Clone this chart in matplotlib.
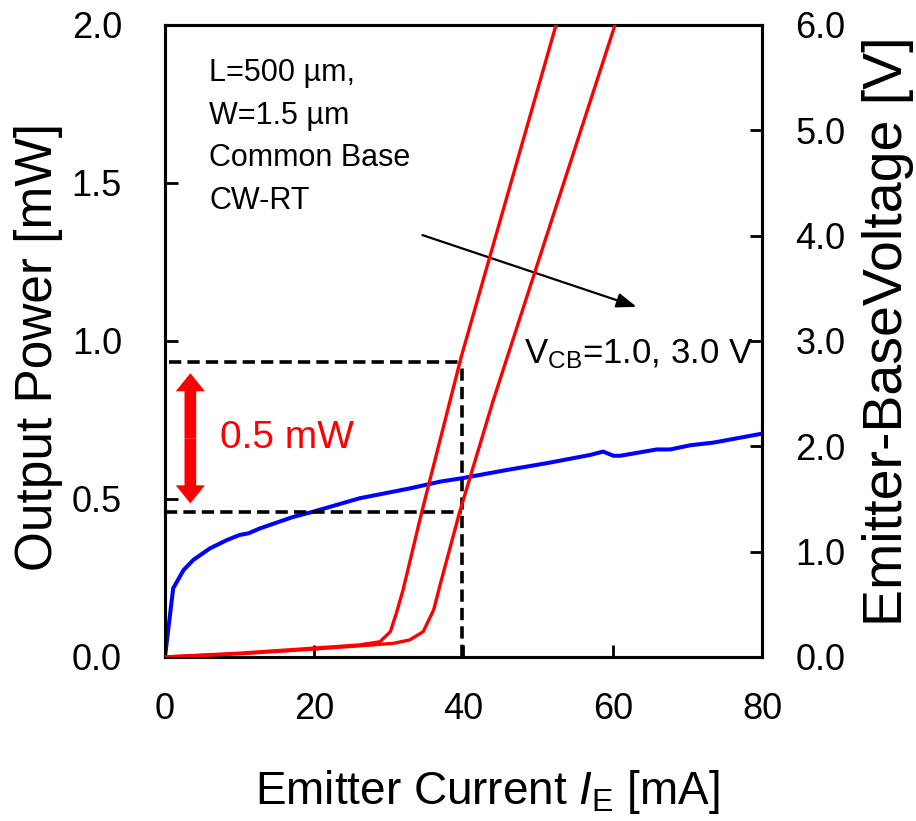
#!/usr/bin/env python3
# -*- coding: utf-8 -*-

from matplotlib import pyplot as plt

plt.rcParams['font.family'] = ['Liberation Sans', 'DejaVu Sans']
plt.rcParams['mathtext.fontset'] = 'custom'
plt.rcParams['mathtext.rm'] = 'Liberation Sans'
plt.rcParams['mathtext.it'] = 'Liberation Sans:italic'

# output power, V_CB = 1.0 V
ie_1v = [0, 10, 20, 26, 28.8, 30.2, 31.0, 31.9, 34.4, 39.7, 52.4]
pw_1v = [0, 0.012, 0.028, 0.038, 0.048, 0.080, 0.138, 0.212, 0.458, 0.95, 2.0]

# output power, V_CB = 3.0 V
ie_3v = [0, 10, 20, 30.6, 32.8, 34.6, 36.0, 37.0, 39.5, 44.0, 60.3]
pw_3v = [0, 0.010, 0.025, 0.043, 0.054, 0.080, 0.149, 0.24, 0.46, 0.813, 2.0]

# emitter-base voltage
ie_v = [0, 1.1, 2.5, 3.8, 6.0, 8.3, 10.0, 11.2, 12.7, 17.2, 19.9, 26.1, 32.8,
        36.9, 39.8, 45.8, 51.1, 57.0, 58.7, 60.1, 61.0, 65.9, 67.7, 70.4,
        73.5, 80.0]
veb = [0, 0.652, 0.826, 0.921, 1.03, 1.11, 1.158, 1.174, 1.22, 1.33, 1.38,
       1.507, 1.60, 1.665, 1.697, 1.775, 1.839, 1.918, 1.95, 1.91, 1.91,
       1.97, 1.97, 2.01, 2.035, 2.12]

# guide lines for the 0.5 mW difference at 40 mA
ie_mark = 39.8
p_low, p_high = 0.458, 0.935

x_ticks = [0, 20, 40, 60, 80]
left_ticks = [0.0, 0.5, 1.0, 1.5, 2.0]
right_ticks = [0.0, 1.0, 2.0, 3.0, 4.0, 5.0, 6.0]

bg = '#ffffe4'

fig = plt.figure(figsize=(9.16, 8.21), dpi=100)
ax = fig.add_axes([0.1801, 0.1998, 0.6518, 0.7698])
ax2 = ax.twinx()

# power axes on top of the voltage axes, background on the lower one
ax.set_zorder(1)
ax2.set_zorder(0)
ax.set_facecolor('none')
ax2.set_facecolor(bg)

ax.set_xlim(0, 80)
ax.set_ylim(0, 2.0)
ax2.set_ylim(0, 6.0)

ax2.plot(ie_v, veb, color='#0000ff', lw=2.9)

# dashed guides
dash_kw = dict(color='black', lw=2.6, dashes=(3.4, 1.7), zorder=2)
ax.plot([0.5, ie_mark], [p_high, p_high], **dash_kw)
ax.plot([0, ie_mark], [p_low, p_low], **dash_kw)
ax.plot([ie_mark, ie_mark], [0, p_high], **dash_kw)

ax.plot(ie_1v, pw_1v, color='#ff0000', lw=2.4, zorder=4)
ax.plot(ie_3v, pw_3v, color='#ff0000', lw=2.4, zorder=4)

# red double arrow
for end in (0.898, 0.486):
    ax.annotate('', xy=(3.4, end), xytext=(3.4, 0.692),
                arrowprops=dict(arrowstyle='simple,head_length=0.65,head_width=1.05,tail_width=0.42',
                                color='#ff0000', lw=0, mutation_scale=20,
                                shrinkA=0, shrinkB=0),
                zorder=5)
ax.text(7.4, 0.692, '0.5 mW', color='#ff0000', fontsize=28, va='center', ha='left')

ax.text(5.9, 1.895, 'L=500 \u00b5m,\nW=1.5 \u00b5m\nCommon Base\nCW-RT',
        fontsize=22, va='top', ha='left', linespacing=1.55)

ax.annotate('', xy=(63.2, 1.108), xytext=(34.5, 1.335),
            arrowprops=dict(arrowstyle='-|>,head_length=0.6,head_width=0.22',
                            color='black', lw=1.6, mutation_scale=20,
                            shrinkA=0, shrinkB=0))
ax.text(48.1, 0.93, r'V$_{\mathrm{CB}}$=1.0, 3.0 V', fontsize=25, va='baseline', ha='left')

ax.set_xticks(x_ticks)
ax.set_xticklabels([str(v) for v in x_ticks])
ax.set_yticks(left_ticks)
ax.set_yticklabels(['%.1f' % v for v in left_ticks])
ax2.set_yticks(right_ticks)
ax2.set_yticklabels(['%.1f' % v for v in right_ticks])

ax.tick_params(axis='x', direction='in', length=9, width=2, labelsize=26, pad=25)
ax.tick_params(axis='y', direction='in', length=9, width=2, labelsize=26, pad=31)
ax2.tick_params(axis='y', direction='in', length=9, width=2, labelsize=26, pad=24)

for a in (ax, ax2):
    for s in a.spines.values():
        s.set_linewidth(2.2)

ax.set_xlabel(r'Emitter Current $\mathit{I}_{\mathrm{E}}$ [mA]', fontsize=33)
ax.xaxis.set_label_coords(0.54, -0.175)
ax.set_ylabel('Output Power [mW]', fontsize=37)
ax.yaxis.set_label_coords(-0.17, 0.49)
ax2.set_ylabel('Emitter-BaseVoltage [V]', fontsize=40)
ax2.yaxis.set_label_coords(1.1675, 0.515)

fig.savefig('out.png', dpi=100)
